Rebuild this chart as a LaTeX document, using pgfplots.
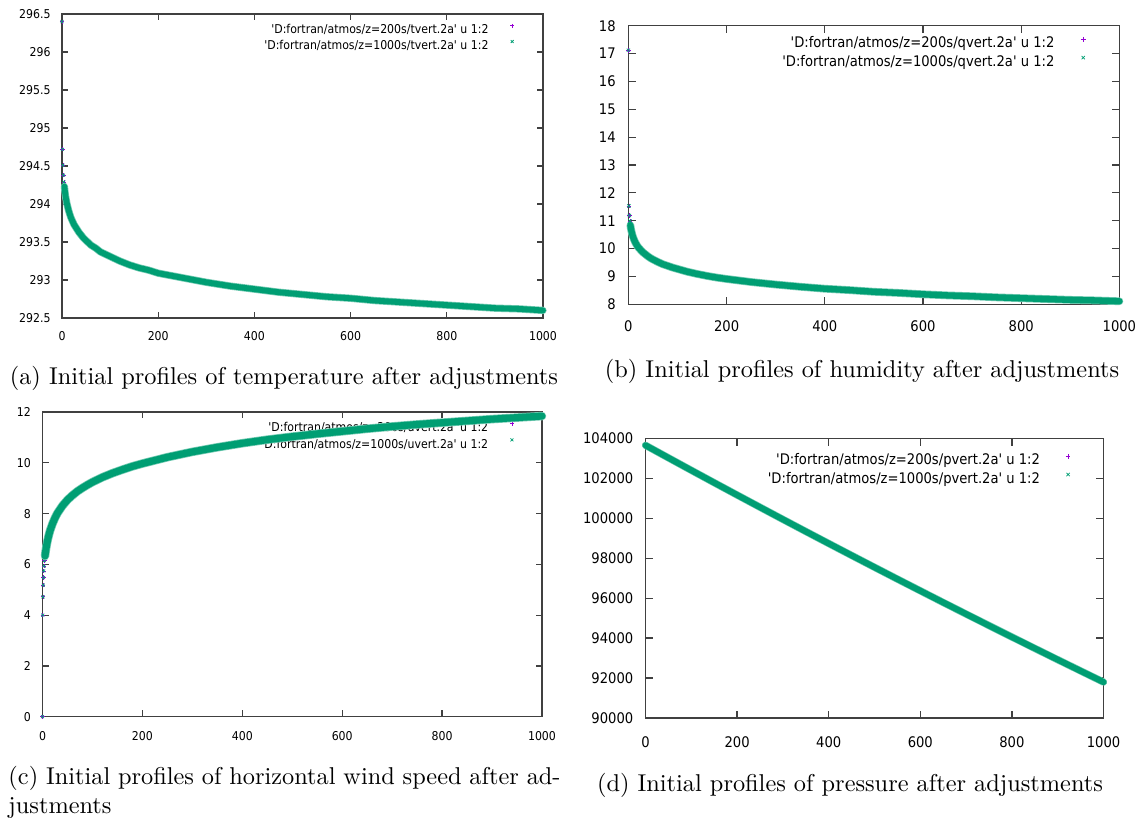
\documentclass[border=0pt]{standalone}
\usepackage{fontspec}
\usepackage{pgfplots}
\usepackage{pgfplotstable}
\pgfplotsset{compat=1.18}

\newfontfamily\gpfont[Ligatures=TeXOff]{DejaVu Sans Condensed}
\newcommand\gpA{\gpfont\fontsize{5}{6}\selectfont}
\newcommand\gpB{\gpfont\fontsize{6}{7.2}\selectfont}
\definecolor{gppurple}{HTML}{9400D3}
\definecolor{gpgreen}{HTML}{009E73}

% Vertical profiles: height (z), run z=200s, run z=1000s
\pgfplotstableread{
z a b
0 296.40 296.40
1 294.72 294.72
2 294.51 294.51
3 294.38 294.38
4 294.29 294.29
5 294.23 294.23
6 294.17 294.17
7 294.12 294.12
8 294.08 294.08
9 294.05 294.05
10 294.01 294.01
12 293.96 293.96
14 293.91 293.91
16 293.87 293.87
18 293.83 293.83
20 293.80 293.80
25 293.73 293.73
30 293.68 293.68
35 293.63 293.63
40 293.59 293.59
45 293.55 293.55
50 293.52 293.52
60 293.46 293.46
70 293.42 293.42
80 293.37 293.37
90 293.34 293.34
100 293.31 293.31
120 293.25 293.25
140 293.20 293.20
160 293.16 293.16
180 293.13 293.13
200 293.09 293.09
250 293.03 293.03
300 292.97 292.97
350 292.92 292.92
400 292.88 292.88
450 292.84 292.84
500 292.81 292.81
550 292.78 292.78
600 292.76 292.76
650 292.73 292.73
700 292.71 292.71
750 292.69 292.69
800 292.67 292.67
850 292.65 292.65
900 292.63 292.63
950 292.62 292.62
1000 292.60 292.60
}\tabT

\pgfplotstableread{
z a b
0 17.12 17.12
1 11.53 11.53
2 11.19 11.19
3 10.99 10.99
4 10.84 10.84
5 10.73 10.73
6 10.64 10.64
7 10.57 10.57
8 10.50 10.50
9 10.44 10.44
10 10.39 10.39
12 10.30 10.30
14 10.22 10.22
16 10.16 10.16
18 10.10 10.10
20 10.05 10.05
25 9.95 9.95
30 9.86 9.86
35 9.79 9.79
40 9.72 9.72
45 9.66 9.66
50 9.61 9.61
60 9.52 9.52
70 9.44 9.44
80 9.38 9.38
90 9.32 9.32
100 9.27 9.27
120 9.17 9.17
140 9.09 9.09
160 9.02 9.02
180 8.96 8.96
200 8.91 8.91
250 8.80 8.80
300 8.71 8.71
350 8.63 8.63
400 8.56 8.56
450 8.51 8.51
500 8.45 8.45
550 8.41 8.41
600 8.36 8.36
650 8.32 8.32
700 8.29 8.29
750 8.25 8.25
800 8.22 8.22
850 8.19 8.19
900 8.16 8.16
950 8.14 8.14
1000 8.11 8.11
}\tabQ

\pgfplotstableread{
z a b
0 0.00 0.00
0.5 4.00 4.00
1 4.72 4.72
1.5 5.18 5.18
2 5.48 5.48
2.5 5.74 5.74
3 5.93 5.93
4 6.15 6.15
5 6.33 6.33
6 6.48 6.48
8 6.73 6.73
10 6.93 6.93
12 7.10 7.10
15 7.32 7.32
20 7.60 7.60
25 7.83 7.83
30 8.02 8.02
40 8.31 8.31
50 8.54 8.54
60 8.72 8.72
70 8.88 8.88
80 9.01 9.01
90 9.13 9.13
100 9.24 9.24
120 9.43 9.43
140 9.59 9.59
160 9.73 9.73
180 9.86 9.86
200 9.97 9.97
250 10.22 10.22
300 10.43 10.43
350 10.61 10.61
400 10.77 10.77
450 10.91 10.91
500 11.03 11.03
550 11.14 11.14
600 11.24 11.24
650 11.34 11.34
700 11.43 11.43
750 11.51 11.51
800 11.58 11.58
850 11.65 11.65
900 11.72 11.72
950 11.78 11.78
1000 11.84 11.84
}\tabU

\pgfplotstableread{
z a b
0 103650 103650
50 103023 103023
100 102399 102399
150 101779 101779
200 101163 101163
250 100551 100551
300 99942 99942
350 99337 99337
400 98736 98736
450 98139 98139
500 97545 97545
550 96954 96954
600 96368 96368
650 95784 95784
700 95205 95205
750 94628 94628
800 94055 94055
850 93486 93486
900 92920 92920
950 92358 92358
1000 91799 91799
}\tabP

\pgfplotsset{
  gnuplot/.style={
    scale only axis, clip=false, clip marker paths=true,
    xmin=0, xmax=1000, xtick={0,200,...,1000},
    axis line style={black!75, line width=0.5pt},
    tick style={black!75, line width=0.5pt},
    tick align=inside, minor tick num=0,
    scaled ticks=false,
    /pgf/number format/fixed,
    /pgf/number format/1000 sep={},
    /pgf/number format/assume math mode=true,
    legend cell align=right, legend plot pos=right,
    legend image code/.code={\draw[##1] plot coordinates {(0pt,2pt)};},
  },
  smallgp/.style={
    major tick length=2.6pt,
    tick label style={font=\gpA, text=black},
    legend style={draw=none, fill=none, inner sep=0pt, outer sep=0pt,
      at={(1,1)}, anchor=north east, font=\gpA,
      nodes={inner sep=0pt, text height=3.7pt, text depth=1.0pt}},
  },
  largegp/.style={
    major tick length=3pt,
    tick label style={font=\gpB, text=black},
    legend style={draw=none, fill=none, inner sep=0pt, outer sep=0pt,
      at={(1,1)}, anchor=north east, font=\gpB,
      nodes={inner sep=0pt, text height=4.4pt, text depth=1.2pt}},
  },
  runA/.style={only marks, mark=+, mark size=#1, gppurple, mark options={line width=0.3pt}},
  runB/.style={only marks, mark=x, mark size=#1, gpgreen, mark options={line width=0.3pt}},
  bandedge/.style={forget plot, no marks, gpgreen!55, line join=round, line cap=round, line width=#1},
  band/.style={forget plot, no marks, gpgreen, line join=round, line cap=round, line width=#1},
}

\begin{document}
\begin{tikzpicture}
\path[use as bounding box] (0,0) rectangle (468.54pt,-338.25pt);

% (a) temperature
\begin{axis}[gnuplot, smallgp,
  at={(25.48pt,-130.70pt)}, anchor=south west,
  width=197.69pt, height=124.94pt,
  ymin=292.5, ymax=296.5, ytick={292.5,293,...,296.5},
  xticklabel style={yshift=-1.85pt}, yticklabel style={xshift=-1.2pt},
  legend style={xshift=-11.8pt, yshift=-4.0pt, row sep=1.5pt, column sep=8.9pt},
]
\addplot[runA=0.85pt] table[x=z, y=a] {\tabT};
\addplot[bandedge=3.0pt, restrict x to domain=5:1000] table[x=z, y=b] {\tabT};
\addplot[band=2.4pt, restrict x to domain=5:1000] table[x=z, y=b] {\tabT};
\addplot[runB=0.85pt] table[x=z, y=b] {\tabT};
\legend{{'D:fortran/atmos/z=200s/tvert.2a' u 1:2},{'D:fortran/atmos/z=1000s/tvert.2a' u 1:2}}
\end{axis}

% (b) humidity
\begin{axis}[gnuplot, largegp,
  at={(258.27pt,-125.07pt)}, anchor=south west,
  width=201.80pt, height=114.50pt,
  ymin=8, ymax=18, ytick={8,9,...,18},
  xticklabel style={yshift=-3.1pt}, yticklabel style={xshift=-1.7pt},
  legend style={xshift=-13.9pt, yshift=-4.6pt, row sep=1.96pt, column sep=10.9pt},
]
\addplot[runA=0.95pt] table[x=z, y=a] {\tabQ};
\addplot[bandedge=3.2pt, restrict x to domain=4:1000] table[x=z, y=b] {\tabQ};
\addplot[band=2.6pt, restrict x to domain=4:1000] table[x=z, y=b] {\tabQ};
\addplot[runB=0.95pt] table[x=z, y=b] {\tabQ};
\legend{{'D:fortran/atmos/z=200s/qvert.2a' u 1:2},{'D:fortran/atmos/z=1000s/qvert.2a' u 1:2}}
\end{axis}

% (c) horizontal wind speed: markers and key
\begin{axis}[gnuplot, smallgp,
  at={(17.47pt,-294.56pt)}, anchor=south west,
  width=205.29pt, height=125.23pt,
  ymin=0, ymax=12, ytick={0,2,...,12},
  xticklabel style={yshift=-2.5pt}, yticklabel style={xshift=-1.3pt},
  legend style={xshift=-11.5pt, yshift=-3.9pt, row sep=1.75pt, column sep=8.9pt},
]
\addplot[runA=0.85pt] table[x=z, y=a] {\tabU};
\addplot[runB=0.85pt] table[x=z, y=b] {\tabU};
\legend{{'D:fortran/atmos/z=200s/uvert.2a' u 1:2},{'D:fortran/atmos/z=1000s/uvert.2a' u 1:2}}
\end{axis}
% (c) the dense point band is drawn over the key text
\begin{axis}[gnuplot, smallgp, hide axis,
  at={(17.47pt,-294.56pt)}, anchor=south west,
  width=205.29pt, height=125.23pt,
  ymin=0, ymax=12,
]
\addplot[bandedge=3.5pt, restrict x to domain=5:1000] table[x=z, y=b] {\tabU};
\addplot[band=2.9pt, restrict x to domain=5:1000] table[x=z, y=b] {\tabU};
\end{axis}

% (d) pressure
\begin{axis}[gnuplot, largegp,
  at={(265.30pt,-295.10pt)}, anchor=south west,
  width=188.24pt, height=114.96pt,
  ymin=90000, ymax=104000, ytick={90000,92000,...,104000},
  xticklabel style={yshift=-4.1pt}, yticklabel style={xshift=-1.5pt},
  legend style={xshift=-13.6pt, yshift=-6.4pt, row sep=1.96pt, column sep=10.6pt},
]
\addplot[runA=0.95pt] table[x=z, y=a] {\tabP};
\addplot[bandedge=3.0pt] table[x=z, y=b] {\tabP};
\addplot[band=2.5pt] table[x=z, y=b] {\tabP};
\addplot[runB=0.95pt] table[x=z, y=b] {\tabP};
\legend{{'D:fortran/atmos/z=200s/pvert.2a' u 1:2},{'D:fortran/atmos/z=1000s/pvert.2a' u 1:2}}
\end{axis}

% sub-captions
\node[anchor=base, inner sep=0pt] at (116.7pt,-157.82pt)
  {(a) Initial profiles of temperature after adjustments};
\node[anchor=base, inner sep=0pt] at (354.3pt,-154.95pt)
  {(b) Initial profiles of humidity after adjustments};
\node[anchor=base west, inner sep=0pt] at (3.29pt,-322.22pt)
  {\makebox[226.9pt][s]{(c) Initial profiles of horizontal wind speed after ad-}};
\node[anchor=base west, inner sep=0pt] at (3.29pt,-334.22pt) {justments};
\node[anchor=base, inner sep=0pt] at (349.35pt,-325.1pt)
  {(d) Initial profiles of pressure after adjustments};
\end{tikzpicture}
\end{document}
